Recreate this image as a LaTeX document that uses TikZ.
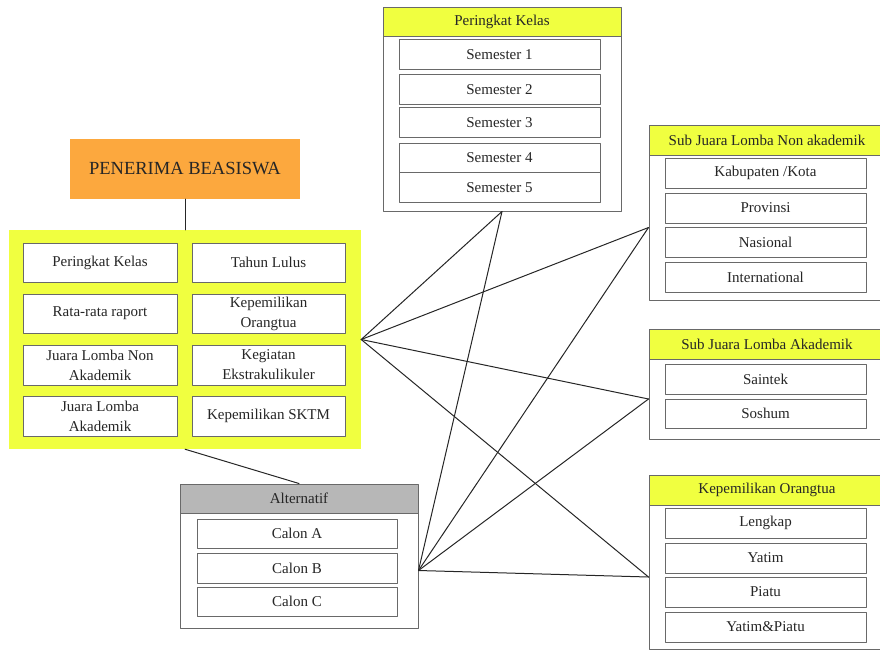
\documentclass[tikz,border=0pt]{standalone}
\usepackage{fontspec}
\setmainfont{Liberation Serif}
\usetikzlibrary{positioning}
\definecolor{kuning}{RGB}{240,255,64}
\definecolor{jingga}{RGB}{252,168,62}
\definecolor{abu}{RGB}{183,183,183}
\definecolor{garis}{RGB}{105,105,105}
\tikzset{
  teks/.style={text=black!85, font=\fontsize{15}{20}\selectfont, align=center, inner sep=0pt},
  item/.style={teks, draw=garis, line width=1pt, fill=white, minimum width=#1, minimum height=30},
  isi/.style={draw=garis, line width=1pt, fill=white, inner sep=0pt},
  judul/.style={teks, draw=garis, line width=1pt, fill=kuning, minimum height=30},
  hubung/.style={draw=black!85, line width=1pt}
}
\begin{document}
\begin{tikzpicture}[x=1pt,y=-1pt,line cap=round,line join=round]
  \useasboundingbox (0,0) rectangle (880,651);
  \clip (0,0) rectangle (880,651);
  % kriteria
  \node[teks, fill=jingga, minimum width=230, minimum height=60, font=\fontsize{18.5}{22}\selectfont] (beasiswa) at (185,169) {PENERIMA BEASISWA};
  \node[fill=kuning, inner sep=0pt, minimum width=352, minimum height=219] (kriteria) at (185,339.5) {};
  \draw[hubung] (beasiswa.south) -- (kriteria.north);
  \node[item=154, minimum height=39] (k1) at (100,262.5) {Peringkat Kelas};
  \node[item=154, minimum height=39] (k2) at (100,313.5) {Rata-rata raport};
  \node[item=154, minimum height=40] (k3) at (100,365) {Juara Lomba Non\\Akademik};
  \node[item=154, minimum height=40] (k4) at (100,416) {Juara Lomba\\Akademik};
  \node[item=153, minimum height=39] (k5) at (268.5,262.5) {Tahun Lulus};
  \node[item=153, minimum height=39] (k6) at (268.5,313.5) {Kepemilikan\\Orangtua};
  \node[item=153, minimum height=40] (k7) at (268.5,365) {Kegiatan\\Ekstrakulikuler};
  \node[item=153, minimum height=40] (k8) at (268.5,416) {Kepemilikan SKTM};
  % peringkat kelas
  \node[isi, minimum width=238, minimum height=175] (kelas) at (502,123.5) {};
  \node[judul, minimum width=238, minimum height=29] (kelasjudul) at (502,21.5) {Peringkat Kelas};
  \foreach \i/\y in {1/54.5,2/89.5,3/122.5,4/158,5/187.5}
    \node[item=201, minimum height=29.5] (sem\i) at (499.5,\y) {Semester \i};
  % sub juara lomba non akademik
  \node[isi, minimum width=236, minimum height=145] (nonak) at (767,227.5) {};
  \node[judul, minimum width=236] (nonakjudul) at (767,140) {Sub Juara Lomba Non akademik};
  \node[item=201] (na1) at (765.5,173) {Kabupaten /Kota};
  \node[item=201] (na2) at (765.5,208) {Provinsi};
  \node[item=201] (na3) at (765.5,242) {Nasional};
  \node[item=201] (na4) at (765.5,277) {International};
  % sub juara lomba akademik
  \node[isi, minimum width=236, minimum height=80] (akad) at (767,399) {};
  \node[judul, minimum width=236] (akadjudul) at (767,344) {Sub Juara Lomba Akademik};
  \node[item=201] (ak1) at (765.5,379) {Saintek};
  \node[item=201, minimum height=29] (ak2) at (765.5,413.5) {Soshum};
  % kepemilikan orangtua
  \node[isi, minimum width=236, minimum height=144] (ortu) at (767,577) {};
  \node[judul, minimum width=236] (ortujudul) at (767,490) {Kepemilikan Orangtua};
  \node[item=201] (o1) at (765.5,523) {Lengkap};
  \node[item=201] (o2) at (765.5,558) {Yatim};
  \node[item=201] (o3) at (765.5,592) {Piatu};
  \node[item=201] (o4) at (765.5,627) {Yatim\&Piatu};
  % alternatif
  \node[isi, minimum width=238, minimum height=115] (alt) at (299,570.5) {};
  \node[judul, fill=abu, minimum width=238, minimum height=29] (altjudul) at (299,498.5) {Alternatif};
  \node[item=200, minimum height=29] (c1) at (297,533.5) {Calon A};
  \node[item=200] (c2) at (297,568) {Calon B};
  \node[item=200, minimum height=29] (c3) at (297,601.5) {Calon C};
  \draw[hubung] (kriteria.south) -- (altjudul.north);
  % hubungan
  \foreach \a in {kriteria.east,alt.east}
    \foreach \b in {kelas.south,nonak.west,akad.west,ortu.west}
      \draw[hubung] (\a) -- (\b);
\end{tikzpicture}
\end{document}
